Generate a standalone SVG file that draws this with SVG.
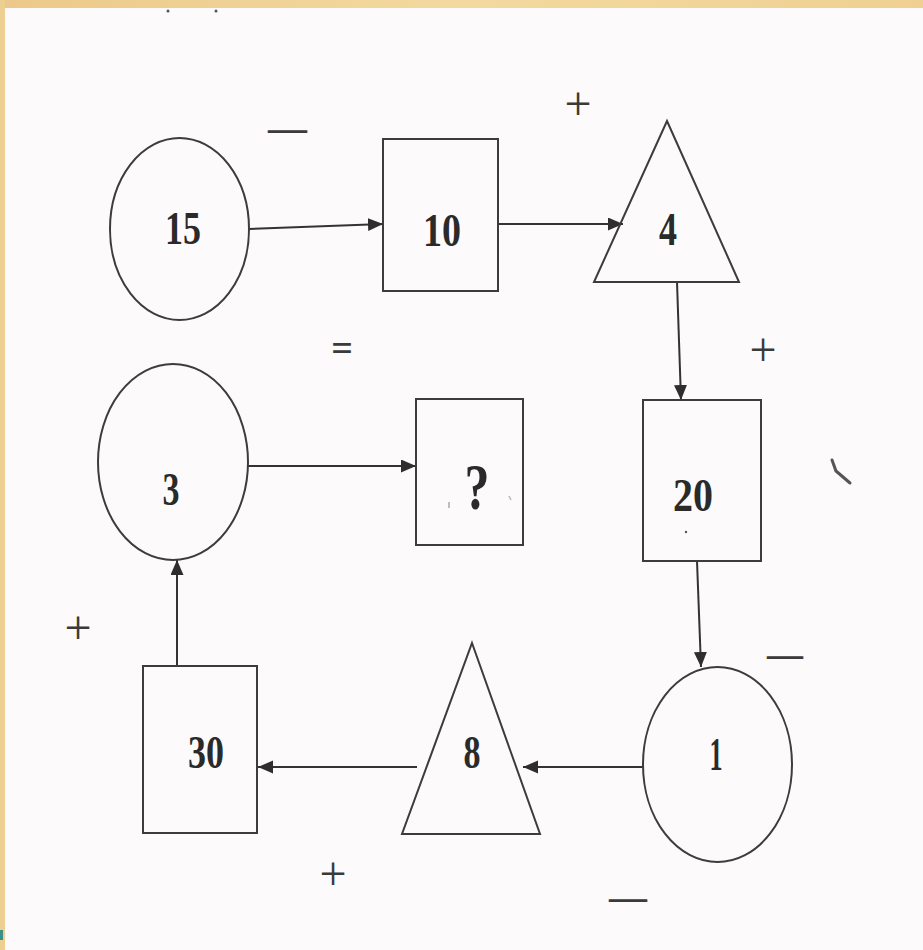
<svg xmlns="http://www.w3.org/2000/svg" width="923" height="950" viewBox="0 0 923 950">
<defs>
<marker id="ah" markerUnits="userSpaceOnUse" markerWidth="16" markerHeight="14" refX="15" refY="6.5" orient="auto">
<path d="M0,0 L15,6.5 L0,13 z" fill="#2e2e2e"/>
</marker>
<linearGradient id="tan" x1="0" y1="0" x2="1" y2="0">
<stop offset="0" stop-color="#ecc98a"/>
<stop offset="0.5" stop-color="#f3d9a0"/>
<stop offset="1" stop-color="#efd092"/>
</linearGradient>
</defs>
<style>
.shape{fill:none;stroke:#3c3c3c;stroke-width:2}
.conn{stroke:#333;stroke-width:2;fill:none;marker-end:url(#ah)}
.num{font-family:"Liberation Serif","Times New Roman",serif;font-weight:bold;font-size:46px;fill:#2a2a2a;text-anchor:middle}
.op{font-family:"Liberation Serif","Times New Roman",serif;fill:#3a3a3a;text-anchor:middle}
.plus{font-size:48px}
.minus{font-size:40px;font-weight:bold}
</style>
<rect x="0" y="0" width="923" height="950" fill="#fcfafb"/>
<rect x="0" y="0" width="923" height="8" fill="url(#tan)"/>
<rect x="0" y="0" width="5" height="950" fill="#eecf92"/>
<rect x="0" y="930" width="3" height="10" fill="#3d8f8a"/>
<circle cx="168" cy="11" r="1.5" fill="#555"/>
<circle cx="216" cy="11" r="1.5" fill="#555"/>

<g id="connectors">
<line class="conn" x1="249" y1="229" x2="383" y2="224"/>
<line class="conn" x1="498" y1="224" x2="623" y2="224"/>
<line class="conn" x1="677" y1="282" x2="681" y2="400"/>
<line class="conn" x1="697" y1="561" x2="701" y2="667"/>
<line class="conn" x1="643" y1="767" x2="523" y2="767"/>
<line class="conn" x1="417" y1="767" x2="258" y2="767"/>
<line class="conn" x1="177" y1="666" x2="177" y2="560"/>
<line class="conn" x1="248" y1="466" x2="416" y2="466"/>
</g>

<g id="node-15">
<ellipse class="shape" cx="179.5" cy="229" rx="69.5" ry="91"/>
<text class="num" x="183" y="244" textLength="36" lengthAdjust="spacingAndGlyphs">15</text>
</g>
<g id="node-10">
<rect class="shape" x="383" y="139" width="115" height="152"/>
<text class="num" x="442" y="246" textLength="38" lengthAdjust="spacingAndGlyphs">10</text>
</g>
<g id="node-4">
<polygon class="shape" points="667,121 739,282 594,282"/>
<text class="num" x="668" y="245" textLength="18" lengthAdjust="spacingAndGlyphs">4</text>
</g>
<g id="node-20">
<rect class="shape" x="643" y="400" width="118" height="161"/>
<text class="num" x="693" y="511" textLength="40" lengthAdjust="spacingAndGlyphs">20</text>
<circle cx="686" cy="532" r="1.2" fill="#555"/>
</g>
<g id="node-1">
<ellipse class="shape" cx="717.5" cy="764.5" rx="74.5" ry="97.5"/>
<text class="num" x="716" y="770" textLength="13" lengthAdjust="spacingAndGlyphs">1</text>
</g>
<g id="node-8">
<polygon class="shape" points="472,643 540,834 402,834"/>
<text class="num" x="472" y="768" textLength="17" lengthAdjust="spacingAndGlyphs">8</text>
</g>
<g id="node-30">
<rect class="shape" x="143" y="666" width="114" height="167"/>
<text class="num" x="206" y="768" textLength="36" lengthAdjust="spacingAndGlyphs">30</text>
</g>
<g id="node-3">
<ellipse class="shape" cx="173" cy="462" rx="75" ry="98"/>
<text class="num" x="171" y="505" textLength="17" lengthAdjust="spacingAndGlyphs">3</text>
</g>
<g id="node-q">
<rect class="shape" x="416" y="399" width="107" height="146"/>
<text class="num" x="477" y="509" style="font-size:66px" textLength="25" lengthAdjust="spacingAndGlyphs">?</text>
<line x1="449" y1="502" x2="449" y2="508" stroke="#aaa" stroke-width="1.5"/>
<line x1="509" y1="496" x2="511" y2="500" stroke="#bbb" stroke-width="1.5"/>
</g>

<g id="operators">
<text class="op minus" x="287.5" y="141" textLength="39" lengthAdjust="spacingAndGlyphs">—</text>
<text class="op plus" x="578" y="120">+</text>
<text class="op plus" x="763" y="366">+</text>
<text class="op" x="342" y="361" style="font-size:38px;font-weight:bold">=</text>
<text class="op minus" x="785" y="667" textLength="36" lengthAdjust="spacingAndGlyphs">—</text>
<text class="op plus" x="78" y="644">+</text>
<text class="op plus" x="333" y="890">+</text>
<text class="op minus" x="628" y="910" textLength="38" lengthAdjust="spacingAndGlyphs">—</text>
</g>
<path d="M832,460 L836,471 L850,483" fill="none" stroke="#555" stroke-width="3" stroke-linecap="round"/>
</svg>
